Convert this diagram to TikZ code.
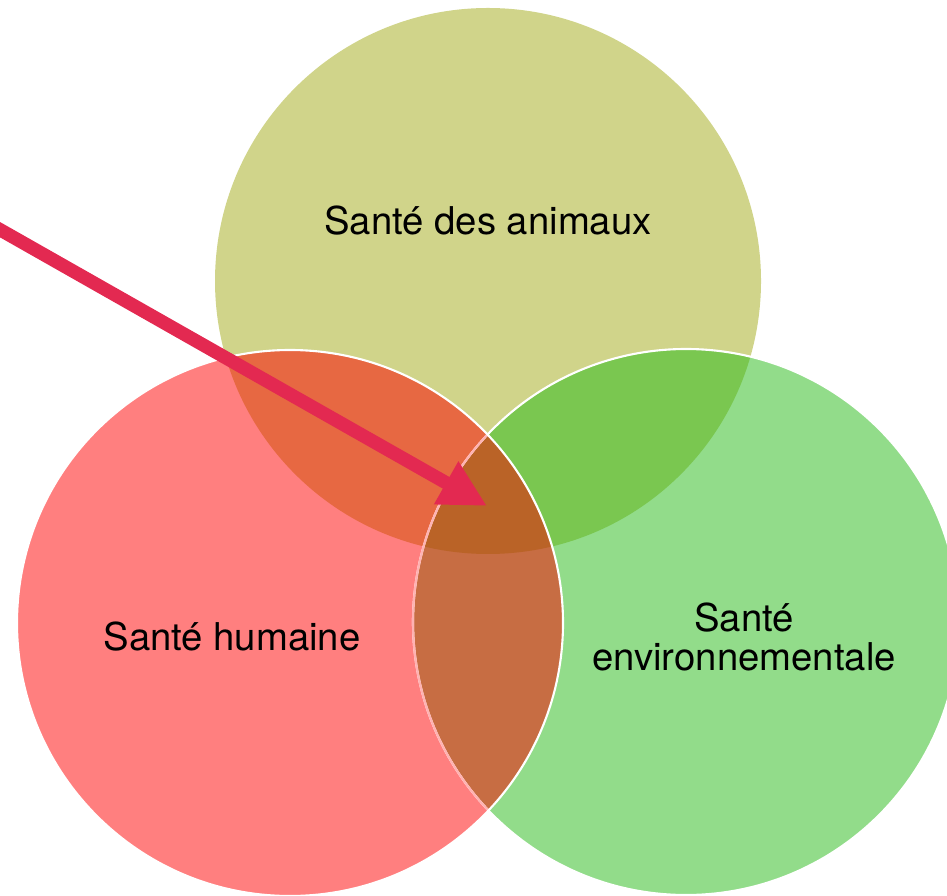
\documentclass[tikz,border=0pt]{standalone}
\usepackage{fontspec}
\setmainfont{TeX Gyre Heros}
\usepackage{tikz}
\usetikzlibrary{arrows.meta}
\definecolor{animcol}{RGB}{208,212,138}
\definecolor{humcol}{RGB}{255,127,127}
\definecolor{envcol}{RGB}{146,220,138}
\definecolor{animhum}{RGB}{231,104,66}
\definecolor{animenv}{RGB}{122,199,80}
\definecolor{humenv}{RGB}{199,109,67}
\definecolor{allcol}{RGB}{186,99,39}
\definecolor{arrowcol}{RGB}{227,41,81}

\begin{document}
\begin{tikzpicture}[x=0.1mm,y=-0.1mm,
  label/.style={font=\fontsize{10.9}{10.9}\selectfont,align=center,anchor=base,inner sep=0pt},
  rim/.style={white,line width=0.6pt}]
\def\rad{27.3mm}
\useasboundingbox (0,0) rectangle (947,895);
\clip (0,0) rectangle (947,895);
\coordinate (anim) at (488,281);
\coordinate (hum) at (290,623);
\coordinate (env) at (686,622);
\fill[animcol] (anim) circle[radius=\rad];
\fill[envcol] (env) circle[radius=\rad];
\fill[humcol] (hum) circle[radius=\rad];
\begin{scope}
  \clip (anim) circle[radius=\rad];
  \fill[animhum] (hum) circle[radius=\rad];
  \fill[animenv] (env) circle[radius=\rad];
\end{scope}
\begin{scope}
  \clip (hum) circle[radius=\rad];
  \fill[humenv] (env) circle[radius=\rad];
  \clip (anim) circle[radius=\rad];
  \fill[allcol] (env) circle[radius=\rad];
\end{scope}
\draw[rim] (env) circle[radius=\rad];
\begin{scope}
  \clip (hum) circle[radius=\rad];
  \draw[rim,humcol!60!white] (env) circle[radius=\rad];
\end{scope}
\draw[rim] (hum) circle[radius=\rad];
\node[label] (animtext) at (488,235) {Santé des animaux};
\node[label] (humtext) at (232,650) {Santé humaine};
\node[label] (envtext) at (744,670) {Santé\\environnementale};
\coordinate (tail) at (-40,207);
\coordinate (tip) at (487,506);
\draw[arrowcol,line width=3.8pt,-{Triangle[length=4.7mm,width=4.6mm]}] (tail) -- (tip);
\end{tikzpicture}
\end{document}
